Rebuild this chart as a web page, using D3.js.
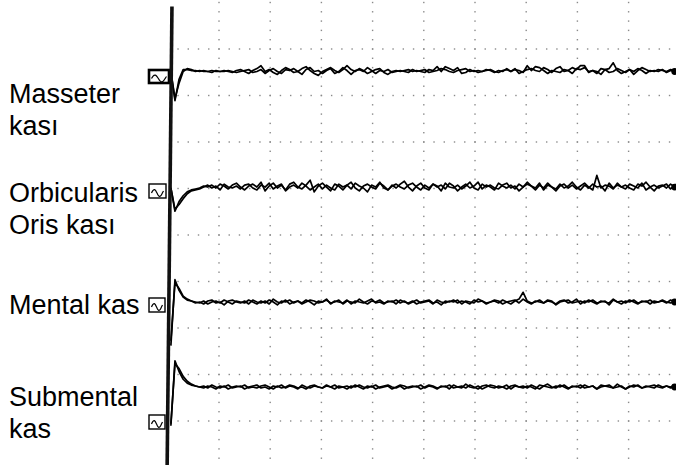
<!DOCTYPE html>
<html><head><meta charset="utf-8">
<script src="https://cdn.jsdelivr.net/npm/d3@7"></script>
<style>html,body{margin:0;padding:0;background:#fff;}svg{display:block;}</style>
</head><body><svg id="c" width="676" height="465"></svg>
<script>
// Channel labels (one inner array per channel, one string per text line)
const channelLabels = [["Masseter","kası"],["Orbicularis","Oris kası"],["Mental kas"],["Submental","kas"]];

// EMG sweeps, µV, one sample per ms (two superimposed sweeps per channel)
const masseterA = [0,-30,-8,2,2,1,1,0,1,0,1,0,0,1,0,-1,1,2,0,-2,
 1,3,6,0,2,-1,-3,1,4,2,-1,0,3,5,1,-2,-4,0,2,4,
 1,-1,2,6,2,0,3,1,-2,0,2,3,-1,-3,0,1,0,1,2,0,
 1,0,-1,2,1,5,0,5,3,1,4,-2,-1,2,0,1,0,2,1,-1,
 1,0,3,0,2,1,-1,6,1,5,4,1,-2,1,0,-1,2,1,4,2,
 6,6,-1,1,0,-3,2,3,9,1,-2,0,2,-3,1,4,2,0,1,0,
 2,-1,1,0];
const masseterB = [0,-28,-12,0,3,2,0,1,0,0,-1,1,0,0,1,0,-1,0,1,2,
 -1,0,2,-2,1,3,0,-2,2,1,3,0,-3,2,4,0,1,-2,1,3,
 -2,0,4,1,-3,1,2,0,4,1,-2,1,0,2,-1,0,1,0,-1,2,
 0,1,2,-1,0,1,3,2,0,-1,1,2,3,0,1,-1,0,1,2,0,
 -1,1,2,0,3,-2,0,2,3,1,0,4,2,-1,3,5,0,1,-2,3,
 2,4,0,1,-2,3,2,-1,0,3,1,-1,2,0,3,1,-2,1,0,2,
 1,0,2,1];
const orbicularisA = [0,-24,-14,-8,-4,-2,-1,0,2,1,3,0,4,2,-1,3,5,1,-2,2,
 4,1,6,-3,2,5,0,3,-2,4,6,1,-1,3,8,-4,2,5,1,-3,
 4,2,-2,3,6,0,-3,2,4,1,-1,5,2,-2,3,0,4,7,1,-3,
 2,5,0,-2,4,1,3,-1,5,2,-3,1,4,0,2,6,-1,3,1,-2,
 5,2,0,3,-1,4,1,6,2,-2,3,0,5,1,-3,2,4,0,3,-1,
 2,5,1,-2,13,0,3,2,-1,5,1,3,0,-2,4,2,6,1,-3,2,
 3,0,4,1];
const orbicularisB = [0,-22,-17,-11,-6,-3,-2,-1,1,3,0,2,-2,4,1,0,2,-1,3,4,
 0,-2,3,1,5,-1,2,4,-3,1,3,0,5,2,-2,1,4,-1,3,0,
 -2,4,1,3,-1,5,2,0,-4,3,1,6,0,-2,2,4,1,-1,3,5,
 1,-2,3,0,4,2,-3,5,1,0,3,-1,2,6,0,-2,4,1,3,0,
 -1,3,5,0,2,-3,1,4,2,0,5,-2,3,1,-1,4,0,2,6,1,
 -2,3,0,4,1,2,-3,5,0,3,1,-1,4,2,0,5,-2,1,3,0,
 2,4,-1,3];
const mentalA = [-45,23,12,5,2,1,0,-1,1,-2,0,1,-1,2,0,-2,1,0,-1,2,
 0,-2,1,-1,2,0,-3,1,0,2,-1,1,-2,0,2,1,-1,0,3,-2,
 1,0,-1,2,-2,1,0,-1,1,3,-1,0,-2,1,0,2,-1,1,-2,0,
 2,-1,0,1,-2,2,0,-1,1,0,2,-2,1,0,-1,3,1,-2,0,1,
 -1,2,0,-2,1,3,10,1,-1,0,2,-1,1,0,-2,1,2,-1,0,3,
 -2,1,0,2,-1,0,1,-3,2,0,1,-1,2,0,-2,1,0,2,-1,0,
 1,-1,2,0];
const mentalB = [-40,20,14,6,3,1,-1,0,-2,1,2,-1,0,-3,1,2,0,-1,1,-2,
 2,0,-1,1,-2,3,0,-1,2,-2,0,1,-1,2,0,-3,1,0,2,-1,
 0,2,-2,1,0,-1,3,0,-2,1,0,2,-1,0,1,-2,2,0,-1,1,
 -2,0,1,2,-1,0,-3,1,0,2,-1,1,0,-2,2,0,1,-1,0,2,
 1,-2,0,1,2,-1,3,0,-2,1,0,-1,2,1,-3,0,1,2,-1,0,
 1,-1,2,0,-2,1,0,-1,3,0,-2,1,0,2,-1,0,1,-2,1,0,
 2,0,-1,1];
const submentalA = [-40,27,16,8,4,2,1,0,-1,1,0,-2,1,0,2,-1,0,1,-2,0,
 1,2,-1,0,-2,1,0,2,-1,1,0,-2,2,0,-1,1,0,-1,2,0,
 -2,1,0,1,-1,2,0,-2,1,0,2,-1,0,1,-2,0,2,1,-1,0,
 1,-2,0,2,1,-1,0,1,-2,2,0,-1,3,0,-1,1,-2,0,2,1,
 -1,0,2,-2,1,0,1,-1,2,0,-2,1,3,0,-1,2,0,-2,1,0,
 2,-1,0,1,-2,2,1,0,-1,3,0,-2,1,0,2,-1,1,0,-1,2,
 0,1,-1,0];
const submentalB = [-38,24,19,11,6,3,1,0,1,-1,2,0,-1,1,-2,0,1,0,2,-1,
 0,-1,1,2,0,-2,1,-1,0,2,1,-1,0,-2,1,2,0,-1,1,0,
 2,-1,0,-2,1,0,2,0,-1,1,-2,0,1,2,0,-1,1,-2,0,1,
 0,2,-1,1,0,-2,1,0,2,-1,0,1,-1,2,0,-2,1,2,0,-1,
 1,0,-2,1,2,0,-1,1,0,-2,2,1,0,-1,1,0,2,-1,0,1,
 -1,2,0,1,-2,0,1,2,-1,0,1,-2,0,2,1,-1,0,1,2,0,
 -1,1,0,2];

// Grid: vertical divisions (ms) and horizontal divisions (index)
const gridColumnsMs = [12.5,25,37.5,50,62.5,75,87.5,100,112.5];
const gridRows = [1,2,3,4,5,6,7,8,9];

const sweeps = [[masseterA,masseterB],[orbicularisA,orbicularisB],[mentalA,mentalB],[submentalA,submentalB]];

const svg = d3.select("#c");
const x = d3.scaleLinear().domain([0,125]).range([167.8,679.8]);
const yGrid = d3.scaleLinear().domain([0,10]).range([2.5,467.5]);
const baselines = [71.5,188,302,387];
const yScales = baselines.map(b => d3.scaleLinear().domain([-48,48]).range([b+46.5,b-46.5]));

// grid dots
const gDots = svg.append("g").attr("fill","#8a8a8a");
gridRows.forEach(r => {
  const ts = d3.range(1,50).map(m => m*2.5);
  gDots.selectAll(null).data(ts).enter().append("rect")
    .attr("x", t => x(t)-0.7).attr("y", yGrid(r)-0.7)
    .attr("width",1.4).attr("height",1.4);
});
gridColumnsMs.forEach(c => {
  const ks = d3.range(0,51).map(j => j/5);
  gDots.selectAll(null).data(ks).enter().append("rect")
    .attr("x", x(c)-0.7).attr("y", k => yGrid(k)-0.7)
    .attr("width",1.4).attr("height",1.4);
});

// traces
const gTr = svg.append("g");
sweeps.forEach((pair,ci) => {
  const ys = yScales[ci];
  const line = d3.line().x((d,i)=>x(0.75+i)).y(d=>ys(d));
  pair.forEach(s => {
    gTr.append("path").attr("d", line(s)).attr("fill","none")
      .attr("stroke","#000").attr("stroke-width",1.7).attr("stroke-linejoin","round");
  });
  const last = pair[0].length-1;
  gTr.append("circle").attr("cx", x(0.75+last)).attr("cy", ys(pair[0][last])).attr("r",3.4).attr("fill","#000");
});

// channel icons
const icons = [{x:149,y:70,w:20,h:13,sw:2.6},{x:149,y:184,w:17,h:14,sw:1.4},{x:149,y:298,w:16,h:14,sw:1.4},{x:149,y:415,w:16,h:14,sw:1.4}];
icons.forEach(b => {
  svg.append("rect").attr("x",b.x).attr("y",b.y).attr("width",b.w).attr("height",b.h)
    .attr("fill","#fff").attr("stroke","#000").attr("stroke-width",b.sw);
  const pts = d3.range(0,13).map(i => [b.x+2.5+i*(b.w-5)/12, b.y+b.h/2+2 - 3.4*Math.sin(i/12*2*Math.PI*1.1)]);
  svg.append("path").attr("d", d3.line().curve(d3.curveCatmullRom)(pts))
    .attr("fill","none").attr("stroke","#000").attr("stroke-width",1.2);
});

// vertical axis (slightly tilted as in the scan)
svg.append("g").attr("transform","translate(0,232) skewX(-0.6) translate(0,-232)")
  .append("line").attr("x1",169.6).attr("x2",169.6).attr("y1",6.5).attr("y2",466)
  .attr("stroke","#111").attr("stroke-width",3.6);

// labels
const labelBaselines = [[103,135],[201.5,234],[314],[406,437.5]];
channelLabels.forEach((lines,ci) => {
  lines.forEach((t,li) => {
    svg.append("text").attr("x",9).attr("y",labelBaselines[ci][li])
      .attr("font-family","'Liberation Sans', Arial, sans-serif").attr("font-size",27)
      .attr("fill","#000").text(t);
  });
});
</script></body></html>
